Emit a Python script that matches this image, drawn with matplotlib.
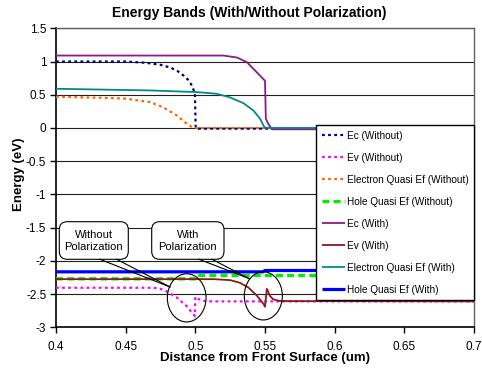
import matplotlib
matplotlib.use("Agg")
import matplotlib.pyplot as plt
import matplotlib.patches as mpatches
import matplotlib.lines as mlines
import matplotlib.transforms as mtransforms

plt.rcParams['font.family'] = ['Liberation Sans', 'DejaVu Sans']
plt.rcParams['lines.scale_dashes'] = False

W, H = 482, 369

# ---- data ----
x_ec_wo = [0.400, 0.450, 0.465, 0.475, 0.482, 0.487, 0.4915, 0.4950, 0.4975, 0.4997, 0.5003, 0.5100, 0.7000]
ec_wo = [1.00, 1.00, 0.98, 0.95, 0.91, 0.86, 0.79, 0.72, 0.64, 0.52, -0.01, -0.01, -0.01]

x_ev_wo = [0.400, 0.470, 0.4747, 0.4794, 0.4866, 0.4937, 0.4996, 0.5000, 0.5034, 0.5082, 0.7000]
ev_wo = [-2.405, -2.405, -2.42, -2.46, -2.55, -2.68, -2.83, -2.54, -2.59, -2.61, -2.61]

x_efn_wo = [0.400, 0.440, 0.4507, 0.4600, 0.4675, 0.4770, 0.4866, 0.4938, 0.4986, 0.7000]
efn_wo = [0.47, 0.45, 0.44, 0.41, 0.39, 0.31, 0.19, 0.065, 0.0, 0.0]

x_efp_wo = [0.400, 0.500, 0.501, 0.700]
efp_wo = [-2.27, -2.27, -2.22, -2.22]

x_ec_w = [0.400, 0.520, 0.530, 0.537, 0.544, 0.5500, 0.5506, 0.5524, 0.5550, 0.5600, 0.7000]
ec_w = [1.09, 1.09, 1.06, 0.99, 0.84, 0.71, 0.14, 0.06, -0.02, -0.02, -0.02]

x_ev_w = [0.400, 0.513, 0.525, 0.532, 0.538, 0.544, 0.549, 0.5500, 0.5513, 0.5536, 0.5560, 0.5608, 0.7000]
ev_w = [-2.275, -2.275, -2.29, -2.33, -2.40, -2.52, -2.65, -2.69, -2.42, -2.53, -2.58, -2.605, -2.61]

x_efn_w = [0.400, 0.4675, 0.501, 0.5153, 0.5249, 0.5344, 0.5416, 0.5464, 0.5495, 0.5510, 0.7000]
efn_w = [0.59, 0.565, 0.54, 0.515, 0.46, 0.375, 0.265, 0.14, 0.015, 0.0, 0.0]

x_efp_w = [0.400, 0.5486, 0.5500, 0.7000]
efp_w = [-2.165, -2.165, -2.145, -2.145]

labels = ["Ec (Without)", "Ev (Without)", "Electron Quasi Ef (Without)", "Hole Quasi Ef (Without)",
          "Ec (With)", "Ev (With)", "Electron Quasi Ef (With)", "Hole Quasi Ef (With)"]

x_ticks = [0.4, 0.45, 0.5, 0.55, 0.6, 0.65, 0.7]
x_tick_labels = ["0.4", "0.45", "0.5", "0.55", "0.6", "0.65", "0.7"]
y_ticks = [-3, -2.5, -2, -1.5, -1, -0.5, 0, 0.5, 1, 1.5]
y_tick_labels = ["-3", "-2.5", "-2", "-1.5", "-1", "-0.5", "0", "0.5", "1", "1.5"]

# ---- figure ----
fig = plt.figure(figsize=(W / 100, H / 100), dpi=100)
ax = fig.add_axes([56 / W, 1 - 327.3 / H, (474 - 56) / W, (327.3 - 28.3) / H])
ax.set_xlim(0.4, 0.7)
ax.set_ylim(-3, 1.5)

for yv in y_ticks:
    ax.axhline(yv, color='#202020', lw=0.8, zorder=1)

dot = (2.0, 2.4)
series = [
    (x_ec_wo, ec_wo, dict(color='#000080', lw=1.6, dashes=dot)),
    (x_ev_wo, ev_wo, dict(color='#FF00FF', lw=1.6, dashes=dot)),
    (x_efn_wo, efn_wo, dict(color='#FF6600', lw=1.6, dashes=dot)),
    (x_efp_wo, efp_wo, dict(color='#00EE00', lw=2.4, dashes=(5, 3))),
    (x_ec_w, ec_w, dict(color='#8B1A8B', lw=1.3)),
    (x_ev_w, ev_w, dict(color='#8B1A1A', lw=1.3)),
    (x_efn_w, efn_w, dict(color='#008B8B', lw=1.3)),
    (x_efp_w, efp_w, dict(color='#0000FF', lw=2.3)),
]
handles = []
for (xs, ys, st), lab in zip(series, labels):
    ln, = ax.plot(xs, ys, label=lab, zorder=3, solid_capstyle='butt', **st)
    handles.append(ln)

ax.set_xticks(x_ticks)
ax.set_xticklabels(x_tick_labels)
ax.set_yticks(y_ticks)
ax.set_yticklabels(y_tick_labels)
ax.tick_params(axis='both', direction='out', length=4, width=1, color='black',
               labelsize=8.5, pad=3)
ax.tick_params(axis='x', pad=6)

for side in ['left', 'bottom']:
    ax.spines[side].set_color('black')
    ax.spines[side].set_linewidth(1.2)
for side in ['top', 'right']:
    ax.spines[side].set_color('#606060')
    ax.spines[side].set_linewidth(1.0)

leg = ax.legend(handles=handles, loc='upper right', bbox_to_anchor=(1.0, (327.3 - 125) / 299),
                borderaxespad=0, frameon=True, fancybox=False, shadow=False,
                fontsize=7.2, handlelength=2.3, handletextpad=0.2, labelspacing=1.2,
                borderpad=0.55, framealpha=1)
leg.get_frame().set_edgecolor('black')
leg.get_frame().set_linewidth(1.0)
leg.set_zorder(10)

# titles
fig.text(249.7 / W, 1 - 13.5 / H, "Energy Bands (With/Without Polarization)",
         ha='center', va='center', fontsize=10, fontweight='bold')
fig.text(264.5 / W, 1 - 358 / H, "Distance from Front Surface (um)",
         ha='center', va='center', fontsize=9.5, fontweight='bold')
fig.text(19.5 / W, 1 - 174 / H, "Energy (eV)", rotation=90,
         ha='center', va='center', fontsize=9.5, fontweight='bold')

# ellipses (data coords)
for cx, cy, ew, eh in [(0.4938, -2.557, 0.0278, 0.725), (0.5488, -2.527, 0.0273, 0.725)]:
    ax.add_patch(mpatches.Ellipse((cx, cy), ew, eh, fill=False, ec='black', lw=0.8, zorder=6))

# callouts in pixel coords (y measured from top)
ident = mtransforms.IdentityTransform()
callouts = [
    ((59.3, 221.7, 128.3, 259.3), "Without\nPolarization", [(100, 259.3), (116.7, 259.3)], (170, 287)),
    ((151.7, 221.7, 224, 259.3), "With\nPolarization", [(199, 259.3), (212, 259.3)], (249, 278.5)),
]
for (x0, y0, x1, y1), txt, bases, tip in callouts:
    box = mpatches.FancyBboxPatch((x0, H - y1), x1 - x0, y1 - y0,
                                  boxstyle=mpatches.BoxStyle("Round", pad=0, rounding_size=8),
                                  transform=ident, fc='white', ec='black', lw=0.8, zorder=8)
    fig.add_artist(box)
    for bx, by in bases:
        fig.add_artist(mlines.Line2D([bx, tip[0]], [H - by, H - tip[1]], transform=ident,
                                     color='black', lw=0.8, zorder=8))
    fig.text((x0 + x1) / 2 / W, 1 - (y0 + y1) / 2 / H, txt, ha='center', va='center',
             fontsize=8, linespacing=1.25, zorder=9)

fig.savefig("out.png", dpi=100)
